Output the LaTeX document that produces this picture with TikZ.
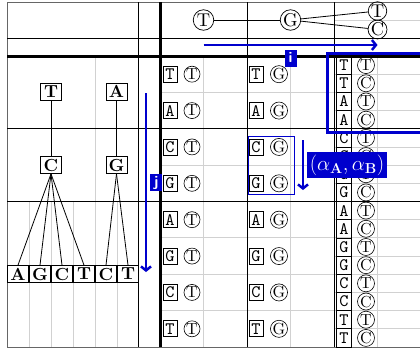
\documentclass[tikz,border=0pt]{standalone}
\usetikzlibrary{arrows.meta}
\definecolor{mblue}{RGB}{0,0,205}
\newcommand\mkHC[1]{\scalebox{1.85}{#1}}
\newcommand\mkTB[1]{\scalebox{1.75}{\bfseries #1}}
\newcommand\mkCB[1]{\scalebox{1.75}{\ttfamily #1}}
\newcommand\mkCC[1]{\scalebox{1.6}{#1}}
\begin{document}
\begin{tikzpicture}[x=1pt,y=-1pt,
  grayline/.style={black!18, line width=0.8pt},
  thinline/.style={black, line width=0.8pt},
  thickline/.style={black, line width=3pt},
  borderline/.style={black!60, line width=1pt},
  treebox/.style={draw, line width=0.7pt, minimum width=21pt, minimum height=17pt, inner sep=0pt, font=\normalsize},
  hcirc/.style={circle, draw, line width=0.7pt, minimum size=20.5pt, inner sep=0pt, font=\normalsize},
  hcircs/.style={hcirc, minimum size=18.5pt},
  cbox/.style={draw, line width=0.7pt, minimum width=14pt, minimum height=16pt, inner sep=0pt, font=\normalsize},
  ccirc/.style={circle, draw, line width=0.6pt, minimum size=16pt, inner sep=0pt, font=\normalsize},
  sbox/.style={cbox, minimum width=15pt, minimum height=18.2pt},
  scirc/.style={ccirc, minimum size=17pt},
  blab/.style={fill=mblue, text=white, inner sep=1.5pt, minimum width=12pt, text height=11pt, text depth=3pt, font=\fontsize{15}{15}\sffamily\bfseries},
  alab/.style={fill=mblue, text=white, inner sep=2.5pt, font=\fontsize{22}{22}\selectfont},
  barrow/.style={mblue, line width=2.5pt, -{Straight Barb[length=4pt,width=10pt]}},
  bluebox/.style={mblue, line width=3pt},
  bluethin/.style={mblue, line width=1pt}
]
\clip (0,0) rectangle (420,349);
\fill[white] (0,0) rectangle (420,349);

% ---- light grid ----
\foreach \y in {92.375,165.125,237.875,274.25,310.625}
  \draw[grayline] (160,\y) -- (425,\y);
\foreach \y in {20,74.19,110.56,146.94,183.31,219.69,256.06,292.44,328.81}
  \draw[grayline] (334,\y) -- (425,\y);
\foreach \x in {203.5,290.5,377.5}
  \draw[grayline] (\x,56) -- (\x,347);
\draw[grayline] (95,56) -- (95,347);
\foreach \x in {29,51,73,117}
  \draw[grayline] (\x,201.5) -- (\x,347);

% ---- main rules ----
\draw[borderline] (7,2) -- (425,2);
\draw[borderline] (7,347) -- (425,347);
\draw[borderline] (7,2) -- (7,347);
\foreach \y in {38,128.75,201.5}
  \draw[thinline] (7,\y) -- (425,\y);
\foreach \x in {138,247,334}
  \draw[thinline] (\x,2) -- (\x,347);
\draw[thickline] (7,56) -- (425,56);
\draw[thickline] (160,2) -- (160,347);

% ---- header tree ----
\node[hcirc] (hT) at (203.5,20) {\mkHC{T}};
\node[hcirc] (hG) at (290.5,20) {\mkHC{G}};
\node[hcircs] (hT2) at (377.5,11) {\mkHC{T}};
\node[hcircs] (hC2) at (377.5,29.5) {\mkHC{C}};
\draw[thinline] (hT) -- (hG);
\draw[thinline] (hG) -- (hT2);
\draw[thinline] (hG) -- (hC2);

% ---- left tree ----
\node[treebox] (tT) at (51,91.5) {\mkTB{T}};
\node[treebox] (tA) at (116.5,91.5) {\mkTB{A}};
\node[treebox] (tC) at (51,165) {\mkTB{C}};
\node[treebox] (tG) at (116.5,165) {\mkTB{G}};
\node[treebox] (l1) at (18,274) {\mkTB{A}};
\node[treebox] (l2) at (40,274) {\mkTB{G}};
\node[treebox] (l3) at (62,274) {\mkTB{C}};
\node[treebox] (l4) at (84,274) {\mkTB{T}};
\node[treebox] (l5) at (106,274) {\mkTB{C}};
\node[treebox] (l6) at (128,274) {\mkTB{T}};
\draw[thinline] (tT) -- (tC);
\draw[thinline] (tA) -- (tG);
\foreach \n in {l1,l2,l3,l4}
  \draw[thinline] (tC.south) -- (\n.north);
\foreach \n in {l5,l6}
  \draw[thinline] (tG.south) -- (\n.north);

% ---- cells ----
\foreach \L [count=\i] in {T,A,C,G,A,G,C,T} {
  \pgfmathsetmacro\yc{56+36.375*(\i-0.5)}
  \pgfmathsetmacro\ya{\yc-9.1}
  \pgfmathsetmacro\yb{\yc+9.1}
  \node[cbox] (ta\i) at (170,\yc) {\mkCB{\L}};
  \node[ccirc] (tb\i) at (192,\yc) {\mkCC{T}};
  \node[cbox] (ga\i) at (256,\yc) {\mkCB{\L}};
  \node[ccirc] (gb\i) at (279,\yc) {\mkCC{G}};
  \node[sbox] (sa\i) at (344,\ya) {\mkCB{\L}};
  \node[scirc] (sb\i) at (366,\ya) {\mkCC{T}};
  \node[sbox] (sc\i) at (344,\yb) {\mkCB{\L}};
  \node[scirc] (sd\i) at (366,\yb) {\mkCC{C}};
}

% ---- blue annotations ----
\draw[bluebox] (327,53.5) rectangle (432,132);
\draw[bluethin] (248,136) rectangle (294,194);

\coordinate (is) at (203.5,45);
\coordinate (ie) at (377.5,45);
\draw[barrow] (is) -- node[blab, midway, below=3.5pt] (ilab) {i} (ie);

\coordinate (js) at (146,93);
\coordinate (je) at (146,272);
\draw[barrow] (js) -- node[blab, midway, right=3pt] (jlab) {j} (je);

\coordinate (as) at (303,140);
\coordinate (ae) at (303,190);
\draw[barrow] (as) -- node[alab, midway, right=3pt] (alab) {$(\alpha_{\mathbf{A}},\alpha_{\mathbf{B}})$} (ae);
\end{tikzpicture}
\end{document}
